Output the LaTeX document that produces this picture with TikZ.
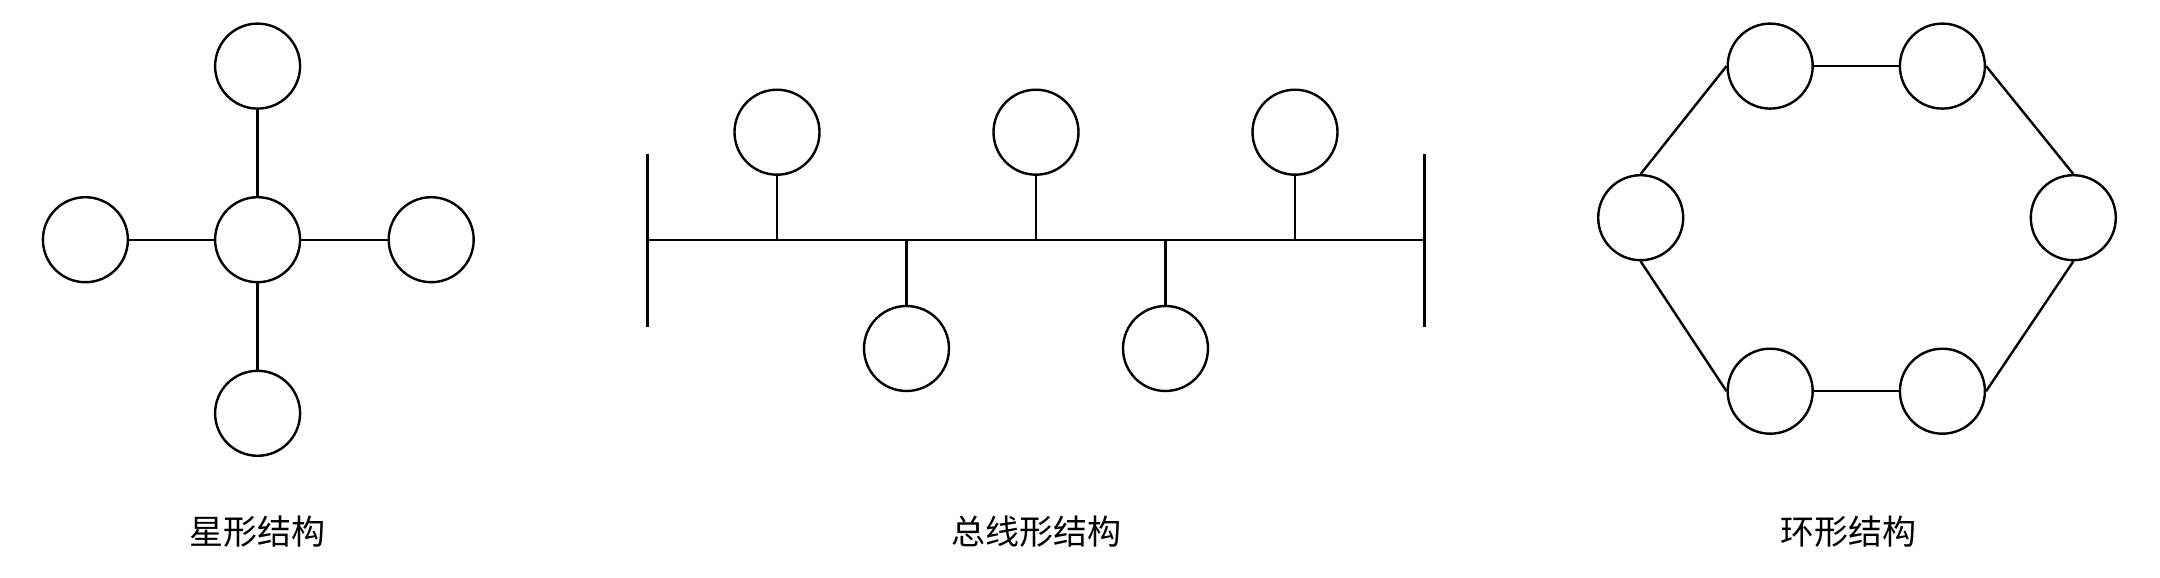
\documentclass[tikz,border=0pt]{standalone}
\usepackage{fontspec}
\newfontfamily\cjk{Noto Sans CJK SC}
\begin{document}
\begin{tikzpicture}[x=0.5pt,y=-0.5pt,
    station/.style={draw, circle, inner sep=0pt, minimum size=42.5pt, line width=1.2pt},
    link/.style={line width=1.2pt},
    caption/.style={font=\cjk\fontsize{17}{20}\selectfont, inner sep=0pt}]
\useasboundingbox (0,0) rectangle (2160,578);

%Star: centre and four stations
\node [station] (hub) at (257.6,239.7) {};
\node [station] (starN) at (257.6,66.1) {};
\node [station] (starS) at (257.6,413.3) {};
\node [station] (starW) at (85.4,239.7) {};
\node [station] (starE) at (431.2,239.7) {};
\draw [link] (hub) -- (starN);
\draw [link] (hub) -- (starS);
\draw [link] (hub) -- (starW);
\draw [link] (hub) -- (starE);

%Bus: trunk line with end bars
\coordinate (busL) at (647.5,239.7);
\coordinate (busR) at (1424.4,239.7);
\coordinate (barLt) at (647.5,154.3);
\coordinate (barLb) at (647.5,326.5);
\coordinate (barRt) at (1424.4,154.3);
\coordinate (barRb) at (1424.4,326.5);
\draw [link] (busL) -- (busR);
\draw [link] (barLt) -- (barLb);
\draw [link] (barRt) -- (barRb);
%Bus: stations
\node [station] (busA) at (777,132.2) {};
\node [station] (busB) at (906.5,348.5) {};
\node [station] (busC) at (1036,132.2) {};
\node [station] (busD) at (1165.5,348.5) {};
\node [station] (busE) at (1295,132.2) {};
\foreach \s in {busA,busB,busC,busD,busE}
  \draw [link] (\s) -- (\s |- busL);

%Ring: six stations
\node [station] (ringW) at (1640.7,217.7) {};
\node [station] (ringNW) at (1770.2,66.1) {};
\node [station] (ringNE) at (1942.4,66.1) {};
\node [station] (ringE) at (2073.3,217.7) {};
\node [station] (ringSE) at (1942.4,391.2) {};
\node [station] (ringSW) at (1770.2,391.2) {};
\draw [link] (ringW.north) -- (ringNW.west);
\draw [link] (ringNW.east) -- (ringNE.west);
\draw [link] (ringNE.east) -- (ringE.north);
\draw [link] (ringE.south) -- (ringSE.east);
\draw [link] (ringSE.west) -- (ringSW.east);
\draw [link] (ringSW.west) -- (ringW.south);

% Text Node
\node [caption] (capStar) at (257.6,531.8) {星形结构};
% Text Node
\node [caption] (capBus) at (1036,531.8) {总线形结构};
% Text Node
\node [caption] (capRing) at (1848.8,531.8) {环形结构};
\end{tikzpicture}
\end{document}
